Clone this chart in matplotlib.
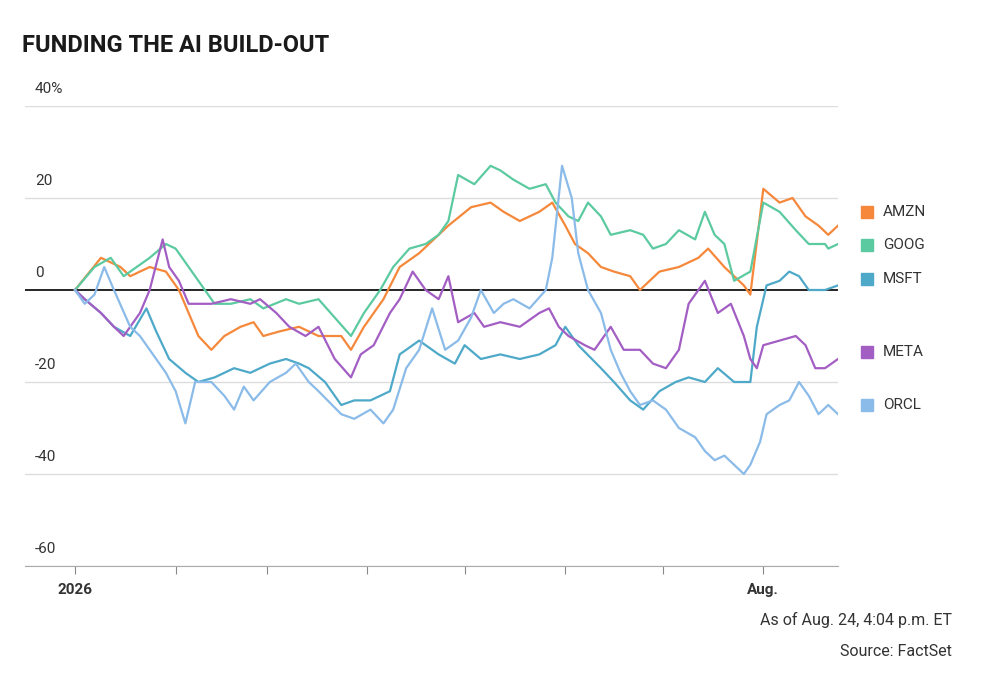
import matplotlib
matplotlib.use("Agg")
import matplotlib.pyplot as plt
import matplotlib.transforms as mtransforms
import numpy as np
import datetime as dt

start = dt.date(2026, 1, 1)
tickers = ["AMZN", "GOOG", "MSFT", "META", "ORCL"]
colors = ["#f5883a", "#5ccaa0", "#4ea9c9", "#a35ec4", "#8bbbe8"]

amzn_d = [0,8,14,17,23,28,32,35,38,42,46,51,55,58,63,69,75,82,85,89,95,100,106,112,115,122,128,132,137,143,147,151,154,158,162,166,171,174,180,186,192,195,200,206,208,212,217,221,225,229,232,235]
amzn_v = [0,7,5,3,5,4,0,-5,-10,-13,-10,-8,-7,-10,-9,-8,-10,-10,-13,-8,-2,5,8,12,14,18,19,17,15,17,19,14,10,8,5,4,3,0,4,5,7,9,5,1,-1,22,19,20,16,14,12,14]

goog_d = [0,6,11,15,23,28,31,35,40,43,48,54,58,65,69,75,80,85,89,94,98,103,108,112,115,118,123,128,131,135,140,145,148,152,155,158,162,165,171,175,178,182,186,191,194,197,200,203,208,212,217,222,226,231,232,235]
goog_v = [0,5,7,3,7,10,9,5,0,-3,-3,-2,-4,-2,-3,-2,-6,-10,-5,0,5,9,10,12,15,25,23,27,26,24,22,23,19,16,15,19,16,12,13,12,9,10,13,11,17,12,10,2,4,19,17,13,10,10,9,10]

msft_d = [0,3,8,12,17,22,25,29,34,38,43,49,54,60,65,69,72,77,82,86,91,97,100,106,112,117,120,125,131,137,143,148,151,155,162,166,171,175,180,185,189,194,198,203,208,210,213,217,220,223,226,231,235]
msft_v = [0,-2,-5,-8,-10,-4,-9,-15,-18,-20,-19,-17,-18,-16,-15,-16,-17,-20,-25,-24,-24,-22,-14,-11,-14,-16,-12,-15,-14,-15,-14,-12,-8,-12,-17,-20,-24,-26,-22,-20,-19,-20,-17,-20,-20,-8,1,2,4,3,0,0,1]

meta_d = [0,3,8,12,15,20,23,27,29,32,35,42,48,54,57,62,66,71,75,80,85,88,92,97,100,104,108,112,115,118,123,126,131,137,143,146,149,152,157,160,165,169,174,178,182,186,189,194,198,202,206,208,210,212,217,222,225,228,231,233,235]
meta_v = [0,-2,-5,-8,-10,-5,0,11,5,2,-3,-3,-2,-3,-2,-5,-8,-10,-8,-15,-19,-14,-12,-5,-2,4,0,-2,3,-7,-5,-8,-7,-8,-5,-4,-8,-10,-12,-13,-8,-13,-13,-16,-17,-13,-3,2,-5,-3,-10,-15,-17,-12,-11,-10,-12,-17,-17,-16,-15]

orcl_d = [0,3,6,9,12,17,20,25,28,31,34,37,42,46,49,52,55,60,65,68,72,75,82,86,91,95,98,102,106,110,114,118,122,125,129,132,135,140,145,147,150,153,155,158,162,165,168,171,174,178,182,186,191,194,197,200,203,206,208,211,213,217,220,223,226,229,232,235]
orcl_v = [0,-3,-1,5,0,-8,-10,-15,-18,-22,-29,-20,-20,-23,-26,-21,-24,-20,-18,-16,-20,-22,-27,-28,-26,-29,-26,-17,-13,-4,-13,-11,-6,0,-5,-3,-2,-4,0,7,27,20,8,0,-5,-13,-18,-22,-25,-24,-26,-30,-32,-35,-37,-36,-38,-40,-38,-33,-27,-25,-24,-20,-23,-27,-25,-27]

series = [(amzn_d, amzn_v), (goog_d, goog_v), (msft_d, msft_v), (meta_d, meta_v), (orcl_d, orcl_v)]
legend_y = [212, 245, 279, 352, 405]  # pixel rows of legend entries
month_ticks = [dt.date(2026, m, 1) for m in range(1, 9)]
month_labels = ["2026", "", "", "", "", "", "", "Aug."]
yticks = [40, 20, 0, -20, -40, -60]
ylabels = ["40%", "20", "0", "-20", "-40", "-60"]

W, H = 982, 684
fig = plt.figure(figsize=(W/100, H/100), dpi=100)
ax = fig.add_axes([25/W, 1-566/H, 813/W, 460/H])

to_num = lambda d: (d - start).days
for (d, v), c in zip(series, colors):
    ax.plot(d, v, color=c, lw=1.6, solid_joinstyle="round", zorder=3)

ax.set_xlim(-15.4, 235)
ax.set_ylim(-60, 40)
for y in yticks:
    ax.axhline(y, color="black" if y == 0 else "#dddddd", lw=1.2 if y == 0 else 1, zorder=1 if y else 2)
trans = mtransforms.blended_transform_factory(ax.transAxes, ax.transData)
for y, l in zip(yticks, ylabels):
    ax.text(10/813, y + 2.2, l, transform=trans, fontsize=11, color="#333333", va="bottom", ha="left", family="Roboto")
for s in ["top", "right", "left"]:
    ax.spines[s].set_visible(False)
ax.spines["bottom"].set_color("#aaaaaa")
ax.set_yticks([])
ax.set_xticks([to_num(d) for d in month_ticks])
ax.set_xticklabels(month_labels, fontsize=11, color="#333333", family="Roboto", fontweight="bold")
ax.tick_params(axis="x", length=6, color="#888888", pad=6)

fig.text(22/W, 1-45/H, "FUNDING THE AI BUILD-OUT", fontsize=17, fontweight="bold",
         family="Roboto", color="#1a1a1a", va="center")
for t, c, py in zip(tickers, colors, legend_y):
    fig.patches.append(plt.Rectangle((861/W, 1-(py+6)/H), 12/W, 12/H, transform=fig.transFigure, color=c))
    fig.text(883/W, 1-py/H, t, fontsize=11, color="#333333", va="center", family="Roboto")
fig.text(952/W, 1-620/H, "As of Aug. 24, 4:04 p.m. ET", ha="right", va="center", fontsize=11.5,
         color="#333333", family="Roboto")
fig.text(952/W, 1-651/H, "Source: FactSet", ha="right", va="center", fontsize=11.5,
         color="#333333", family="Roboto")
fig.savefig("out.png", dpi=100)
